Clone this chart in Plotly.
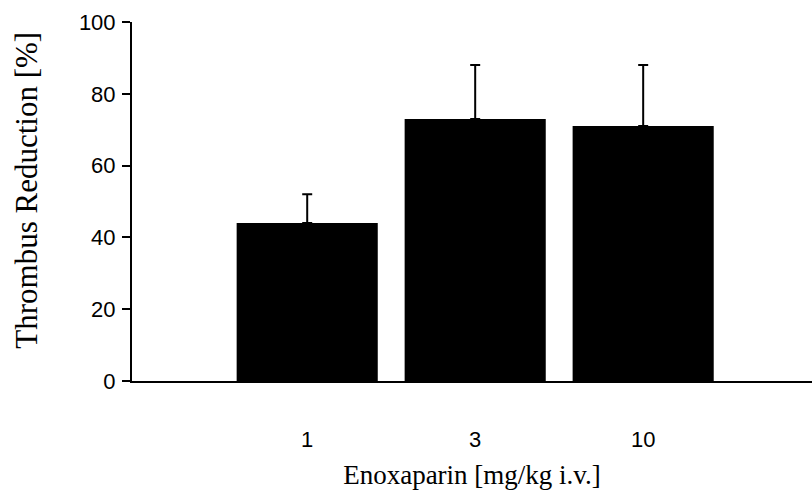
import plotly.graph_objects as go

# Enoxaparin dose groups and measured thrombus reduction (mean, +SEM)
doses = ["1", "3", "10"]
reduction = [44, 73, 71]
sem = [8, 15, 17]
y_ticks = [0, 20, 40, 60, 80, 100]

positions = list(range(len(doses)))

fig = go.Figure(
    go.Bar(
        x=positions,
        y=reduction,
        width=0.84,
        marker=dict(color="black", line=dict(width=0)),
        error_y=dict(
            type="data",
            array=sem,
            arrayminus=[0] * len(sem),
            symmetric=False,
            color="black",
            thickness=2,
            width=5,
        ),
        showlegend=False,
    )
)

fig.update_layout(
    width=812,
    height=497,
    margin=dict(l=132, r=0, t=22, b=116),
    plot_bgcolor="white",
    paper_bgcolor="white",
    font=dict(family="Liberation Sans, Arial, sans-serif", size=22, color="black"),
    xaxis=dict(
        range=[-1.043, 3.005],
        tickvals=positions,
        ticktext=doses,
        showline=True,
        linecolor="black",
        linewidth=2,
        ticks="",
        ticklabelstandoff=38,
        showgrid=False,
        zeroline=False,
        title=dict(
            text="Enoxaparin [mg/kg i.v.]",
            font=dict(family="Liberation Serif, Times New Roman, serif", size=27),
            standoff=14,
        ),
    ),
    yaxis=dict(
        range=[0, 100],
        tickvals=y_ticks,
        showline=True,
        linecolor="black",
        linewidth=2,
        ticks="outside",
        ticklen=8,
        tickwidth=1.5,
        tickcolor="black",
        ticklabelstandoff=2,
        showgrid=False,
        zeroline=False,
    ),
    annotations=[
        dict(
            text="Thrombus Reduction [%]",
            textangle=-90,
            xref="paper",
            yref="paper",
            x=0,
            y=0.53,
            xanchor="center",
            yanchor="middle",
            xshift=-105,
            showarrow=False,
            font=dict(family="Liberation Serif, Times New Roman, serif", size=31),
        )
    ],
)

fig.write_html("out.html")
